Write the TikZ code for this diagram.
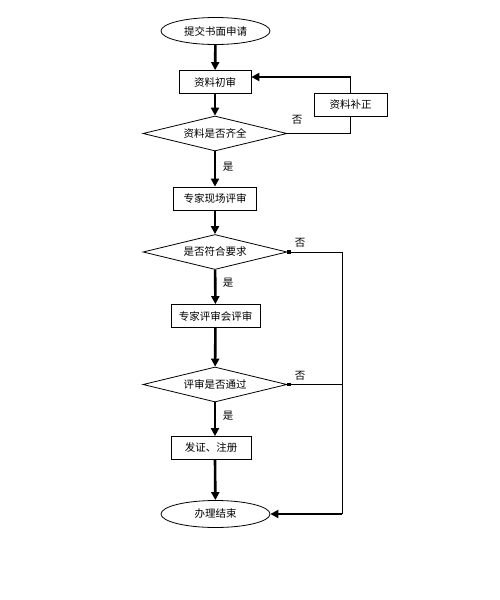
\documentclass[tikz,border=0pt]{standalone}
\usepackage{fontspec}
\setmainfont{Noto Sans CJK SC}
\usetikzlibrary{shapes.geometric,arrows.meta}

\begin{document}
\begin{tikzpicture}[x=1pt,y=-1pt]
    \tikzset{every node/.style={font=\fontsize{10.5}{12}\selectfont,inner sep=0pt}}
    \tikzset{stepbox/.style={draw,line width=0.8pt,fill=white,minimum height=23pt}}
    \tikzset{termbox/.style={draw,ellipse,line width=0.8pt,minimum width=109pt,minimum height=27pt}}
    \tikzset{testbox/.style={draw,diamond,aspect=4,line width=0.8pt,minimum width=144pt,minimum height=35pt}}
    \tikzset{flow/.style={line width=2.6pt,-{Triangle[length=8pt,width=8pt]}}}
    \tikzset{back/.style={line width=0.8pt}}
    \tikzset{nodot/.style={line width=0.8pt,{Square[length=3.5pt,width=3.5pt]}-}}
    \useasboundingbox (0,0) rectangle (500,600);
    \node[termbox] (start) at (215.5,31) {提交书面申请};
\node[stepbox,minimum width=72pt] (check) at (215,82) {资料初审};
\node[testbox] (full) at (215,133.5) {资料是否齐全};
\node[stepbox,minimum width=73pt] (fix) at (350.5,105) {资料补正};
\node[stepbox,minimum width=83pt] (site) at (215,198.5) {专家现场评审};
\node[testbox] (meet) at (215,252) {是否符合要求};
\node[stepbox,minimum width=89pt] (panel) at (215.5,316) {专家评审会评审};
\node[testbox] (pass) at (215,384.5) {评审是否通过};
\node[stepbox,minimum width=80pt] (cert) at (211,448) {发证、注册};
\node[termbox] (done) at (215.5,514) {办理结束};
\node (no1) at (297,120) {否};
\node (no2) at (300,243) {否};
\node (no3) at (300,376) {否};
\node (yes1) at (228,167) {是};
\node (yes2) at (228,283) {是};
\node (yes3) at (228,416) {是};
\coordinate (ftop) at (350.5,77);
\coordinate (rtop) at (342,252);
\coordinate (rbot) at (342,514);
\draw[flow] (start) -- (check);
\draw[flow] (check) -- (full);
\draw[flow] (full) -- (site);
\draw[flow] (site) -- (meet);
\draw[flow] (meet) -- (panel);
\draw[flow] (panel) -- (pass);
\draw[flow] (pass) -- (cert.north -| pass);
\draw[flow] (cert.south -| pass) -- (done);
\draw[back] (full.east) -| (fix.south);
\draw[back] (fix.north) -- (ftop);
\draw[flow,line width=2pt] ([xshift=0.4pt]ftop) -- (ftop -| check.east);
\draw[nodot] (meet.east) -- (rtop);
\draw[nodot] (pass.east) -- (pass.east -| rtop);
\draw[back] (rtop) -- (rbot);
\draw[flow] (rbot) -- (done.east);

\end{tikzpicture}
\end{document}
